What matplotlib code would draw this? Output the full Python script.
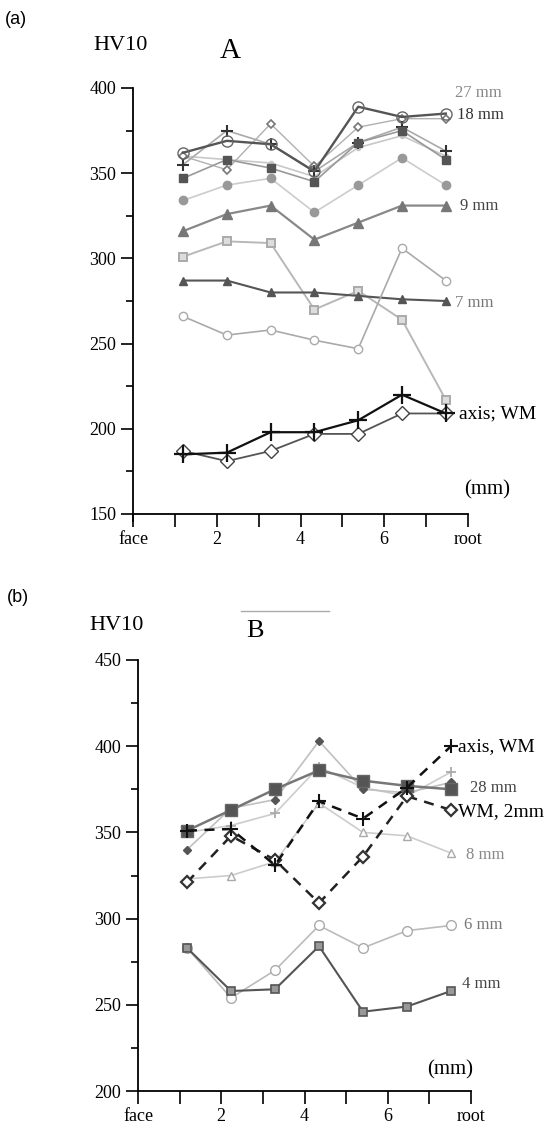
import numpy as np
import matplotlib
matplotlib.use("Agg")
import matplotlib.pyplot as plt
from matplotlib.ticker import MultipleLocator

plt.rcParams["font.family"] = ["Liberation Serif", "DejaVu Serif"]

x = [1, 2, 3, 4, 5, 6, 7]
xtick_labels = ["face", "", "2", "", "4", "", "6", "", "root"]

# panel A (HV10 vs distance)
a_18mm = [362, 369, 367, 351, 389, 383, 385]
a_plus = [355, 375, 367, 351, 368, 377, 363]
a_square = [347, 358, 353, 345, 368, 375, 358]
a_diamond = [360, 352, 379, 354, 377, 382, 382]
a_light = [360, 358, 356, 348, 365, 372, 360]
a_dot = [334, 343, 347, 327, 343, 359, 343]
a_9mm = [316, 326, 331, 311, 321, 331, 331]
a_opensq = [301, 310, 309, 270, 281, 264, 217]
a_7mm = [287, 287, 280, 280, 278, 276, 275]
a_opencirc = [266, 255, 258, 252, 247, 306, 287]
a_axis = [185, 186, 198, 198, 205, 220, 209]
a_wm = [187, 181, 187, 197, 197, 209, 209]

# panel B
b_28mm = [351, 363, 375, 386, 380, 377, 375]
b_dot = [340, 364, 369, 403, 375, 373, 379]
b_plus = [350, 354, 361, 388, 376, 371, 385]
b_8mm = [323, 325, 333, 367, 350, 348, 338]
b_axis = [351, 352, 331, 368, 358, 376, 400]
b_wm2 = [321, 348, 334, 309, 336, 371, 363]
b_6mm = [283, 254, 270, 296, 283, 293, 296]
b_4mm = [283, 258, 259, 284, 246, 249, 258]

W, H = 547, 1135
fig = plt.figure(figsize=(W / 100, H / 100), dpi=100)


def style_axes(ax, xlo, xhi, ylo, yhi):
    ax.set_xlim(xlo, xhi)
    ax.set_ylim(ylo, yhi)
    for s in ("top", "right"):
        ax.spines[s].set_visible(False)
    for s in ("left", "bottom"):
        ax.spines[s].set_linewidth(1.3)
    ax.set_xticks(np.linspace(xlo, xhi, 9))
    ax.set_xticklabels(xtick_labels)
    ax.yaxis.set_major_locator(MultipleLocator(50))
    ax.yaxis.set_minor_locator(MultipleLocator(25))
    ax.tick_params(axis="both", which="major", direction="out", length=9, width=1.2,
                   labelsize=13, pad=3)
    ax.tick_params(axis="y", which="minor", direction="out", length=5, width=1.2)
    for lab in ax.get_xticklabels():
        lab.set_verticalalignment("top")
    ax.set_facecolor("none")


# ---------- panel A ----------
ax1 = fig.add_axes([133 / W, 1 - 514 / H, 335 / W, 426 / H])
style_axes(ax1, -0.142, 7.507, 150, 400)
ax1.spines["left"].set_bounds(146, 400)

ax1.plot(x, a_light, "-", color="#c8c8c8", lw=1.2, marker="o", ms=3, mfc="#c8c8c8", mec="#c8c8c8")
ax1.plot(x, a_diamond, "-", color="#b0b0b0", lw=1.0, marker="D", ms=4, mfc="white", mec="#777777", mew=1.2)
ax1.plot(x, a_plus, "-", color="#aaaaaa", lw=1.2, marker="+", ms=8, mec="#333333", mew=1.5)
ax1.plot(x, a_square, "-", color="#999999", lw=1.2, marker="s", ms=6, mfc="#555555", mec="#555555")
ax1.plot(x, a_18mm, "-", color="#555555", lw=1.7, marker="o", ms=8, mfc="none", mec="#666666", mew=1.0)
ax1.plot(x, a_dot, "-", color="#cccccc", lw=1.2, marker="o", ms=6, mfc="#999999", mec="#999999")
ax1.plot(x, a_9mm, "-", color="#888888", lw=1.6, marker="^", ms=7, mfc="#777777", mec="#777777")
ax1.plot(x, a_opensq, "-", color="#b8b8b8", lw=1.4, marker="s", ms=6, mfc="#dddddd", mec="#aaaaaa", mew=1.4)
ax1.plot(x, a_7mm, "-", color="#555555", lw=1.5, marker="^", ms=6, mfc="#555555", mec="#555555")
ax1.plot(x, a_opencirc, "-", color="#aaaaaa", lw=1.2, marker="o", ms=6, mfc="white", mec="#aaaaaa")
ax1.plot(x, a_wm, "-", color="#555555", lw=1.3, marker="D", ms=7, mfc="white", mec="#444444", mew=1.0)
ax1.plot(x, a_axis, "-", color="#111111", lw=1.6, marker="+", ms=13, mec="#111111", mew=1.6)

ax1.text(7.21, 397, "27 mm", color="#888888", fontsize=12, va="center")
ax1.text(7.26, 384, "18 mm", color="#333333", fontsize=12, va="center")
ax1.text(7.32, 331, "9 mm", color="#444444", fontsize=12, va="center")
ax1.text(7.21, 274, "7 mm", color="#777777", fontsize=12, va="center")
ax1.text(7.30, 209, "axis; WM", color="black", fontsize=14, va="center")
ax1.text(7.94, 164, "(mm)", color="black", fontsize=15, va="center", ha="center", clip_on=False)

fig.text(5 / W, 1 - 20 / H, "(a)", fontsize=13, family=["Liberation Sans", "DejaVu Sans"], va="center")
fig.text(93 / W, 1 - 46 / H, "HV10", fontsize=16, va="center")
fig.text(220 / W, 1 - 51 / H, "A", fontsize=21, va="center")

# ---------- panel B ----------
ax2 = fig.add_axes([138 / W, 1 - 1091 / H, 333 / W, 431 / H])
style_axes(ax2, -0.114, 7.455, 200, 450)

ax2.plot(x, b_plus, "-", color="#cccccc", lw=1.2, marker="+", ms=7, mec="#aaaaaa", mew=1.3)
ax2.plot(x, b_dot, "-", color="#c0c0c0", lw=1.2, marker="D", ms=4, mfc="#555555", mec="#555555")
ax2.plot(x, b_8mm, "-", color="#cccccc", lw=1.2, marker="^", ms=6, mfc="white", mec="#aaaaaa")
ax2.plot(x, b_28mm, "-", color="#777777", lw=1.8, marker="s", ms=9, mfc="#555555", mec="#666666")
ax2.plot(x, b_wm2, "--", color="#222222", lw=1.8, dashes=(4, 3), marker="D", ms=6, mfc="white", mec="#333333", mew=1.6)
ax2.plot(x, b_axis, "--", color="#111111", lw=1.8, dashes=(4, 3), marker="+", ms=10, mec="#111111", mew=1.5)
ax2.plot(x, b_6mm, "-", color="#bbbbbb", lw=1.2, marker="o", ms=7, mfc="white", mec="#aaaaaa")
ax2.plot(x, b_4mm, "-", color="#555555", lw=1.5, marker="s", ms=6, mfc="#999999", mec="#555555", mew=1.2)

ax2.text(7.16, 400, "axis, WM", color="black", fontsize=14, va="center", clip_on=False)
ax2.text(7.43, 376, "28 mm", color="#444444", fontsize=12, va="center")
ax2.text(7.16, 362, "WM, 2mm", color="black", fontsize=14, va="center")
ax2.text(7.34, 337, "8 mm", color="#888888", fontsize=12, va="center")
ax2.text(7.30, 296, "6 mm", color="#777777", fontsize=12, va="center")
ax2.text(7.25, 262, "4 mm", color="#444444", fontsize=12, va="center")
ax2.text(6.98, 212, "(mm)", color="black", fontsize=15, va="center", ha="center")

fig.text(7 / W, 1 - 597 / H, "(b)", fontsize=13, family=["Liberation Sans", "DejaVu Sans"],
         va="center")
fig.text(89 / W, 1 - 625 / H, "HV10", fontsize=16, va="center")
fig.text(246 / W, 1 - 631 / H, "B", fontsize=19, va="center")
fig.add_artist(plt.Line2D([241 / W, 329 / W], [1 - 611 / H, 1 - 611 / H], color="#aaaaaa", lw=1.0))

fig.savefig("out.png", dpi=100)
